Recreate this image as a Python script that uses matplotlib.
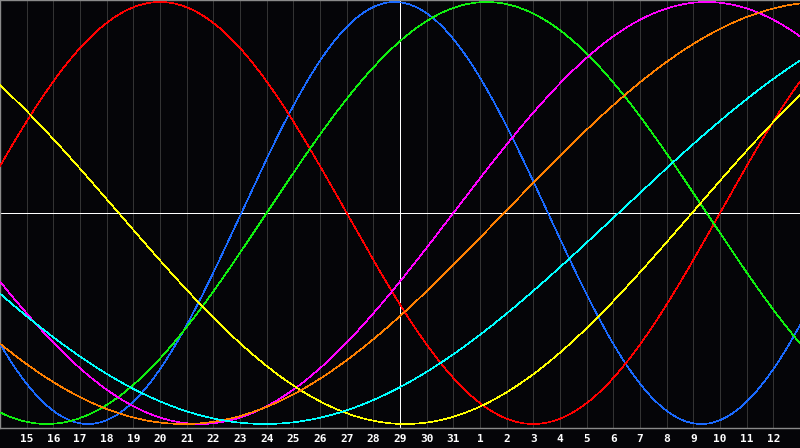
import numpy as np
import matplotlib
matplotlib.use("Agg")
import matplotlib.pyplot as plt

# day labels under the grid lines (first grid line = day 15)
day_labels = [str(d) for d in range(15, 32)] + [str(d) for d in range(1, 13)]
n_days = 30          # chart spans 30 days
today_idx = 15       # white line (day 29)

# cycles: period in days and where the peak sits (days from left edge)
cycle_names = ["physical", "emotional", "intellectual", "intuitive",
               "aesthetic", "awareness", "spiritual"]
cycle_periods = [23, 28, 33, 38, 43, 48, 53]
cycle_peaks = [14.8, 6.0, 18.25, 26.5, -6.3, 30.9, 36.44]
cycle_colors = ["#1a6aff", "#ff0000", "#10f010", "#ff00ff",
                "#ffff00", "#ff8000", "#00ffff"]

bg = "#050508"
fig = plt.figure(figsize=(8, 4.48), dpi=100, facecolor=bg)
ax = fig.add_axes([0, 20 / 448, 1, 428 / 448])
ax.set_facecolor(bg)

t = np.linspace(0, n_days, 1600)
for P, pk, c in zip(cycle_periods, cycle_peaks, cycle_colors):
    ax.plot(t, np.cos(2 * np.pi * (t - pk) / P), color=c, lw=0.45,
            antialiased=False, zorder=3)

for i in range(1, n_days):
    ax.axvline(i, color="#333333", lw=0.6, zorder=1, antialiased=False)
ax.axvline(today_idx, color="white", lw=0.6, zorder=2, antialiased=False)
ax.axhline(0, color="white", lw=0.6, zorder=2, antialiased=False)

ax.set_xlim(0, n_days)
ax.set_ylim(-215 / 211, 213 / 211)
ax.set_xticks([])
ax.set_yticks([])
for side in ["left", "top", "bottom"]:
    ax.spines[side].set_color("#8a8a8a")
    ax.spines[side].set_linewidth(1.0)
ax.spines["right"].set_visible(False)

for i, lab in enumerate(day_labels, start=1):
    fig.text(i / n_days, 9.5 / 448, lab, color="white", fontsize=8,
             fontweight="bold", ha="center", va="center",
             family="DejaVu Sans Mono")

fig.savefig("out.png", dpi=100, facecolor=bg)
